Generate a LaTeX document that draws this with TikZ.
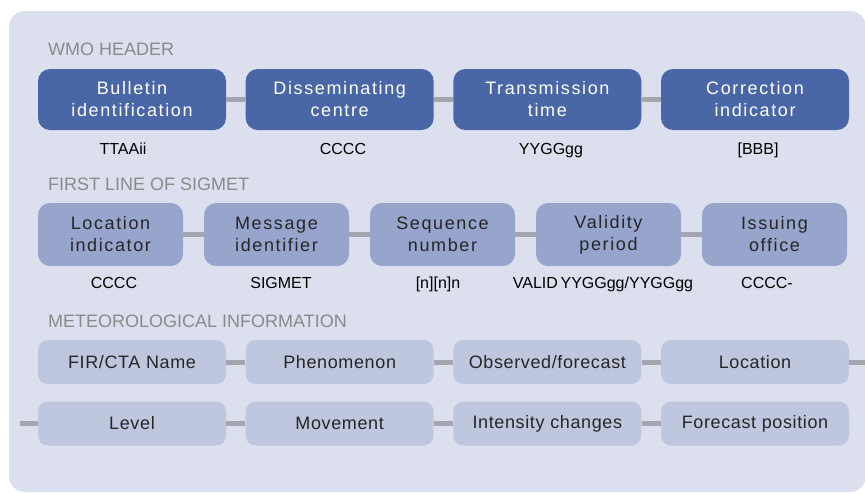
\documentclass[tikz,border=0pt]{standalone}
\usepackage{fontspec}
\setmainfont{Liberation Sans}
\definecolor{panelbg}{RGB}{220,223,238}
\definecolor{wmoblue}{RGB}{73,103,166}
\definecolor{sigblue}{RGB}{151,164,203}
\definecolor{metblue}{RGB}{191,199,223}
\definecolor{linkgray}{RGB}{163,166,174}
\definecolor{headgray}{RGB}{138,138,138}
\definecolor{boxtext}{RGB}{38,38,38}
\begin{document}
\begin{tikzpicture}[x=1pt, y=-1pt,
    box/.style={rounded corners=12pt, inner sep=0pt, align=center,
        font=\fontsize{18pt}{22pt}\selectfont\addfontfeature{LetterSpace=9}},
    wmobox/.style={box, fill=wmoblue, text=white, minimum width=188pt, minimum height=61pt},
    sigbox/.style={box, fill=sigblue, text=boxtext, minimum width=145pt, minimum height=63pt},
    metbox/.style={box, rounded corners=10pt, fill=metblue, text=boxtext, minimum width=188pt, minimum height=44pt,
        font=\fontsize{18pt}{22pt}\selectfont\addfontfeature{LetterSpace=3.5}},
    head/.style={anchor=west, inner sep=0pt, text=headgray, font=\fontsize{18pt}{20pt}\selectfont},
    code/.style={anchor=base, inner sep=0pt, font=\fontsize{16pt}{18pt}\selectfont},
    link/.style={draw=linkgray, line width=5pt}]
    \useasboundingbox (0,0) rectangle (865,493);
    \fill[panelbg, rounded corners=16pt] (9,11) rectangle (866,492);
    \node[head] (t1) at (48,49) {WMO HEADER};
    \node[head] (t2) at (48,184) {FIRST LINE OF SIGMET};
    \node[head] (t3) at (48,321) {METEOROLOGICAL INFORMATION};
    \foreach \t/\c/\cx [count=\i] in {{Bulletin\\identification}/TTAAii/123, {Disseminating\\centre}/CCCC/343,
        {Transmission\\time}/YYGGgg/551, {Correction\\indicator}/[BBB]/758}{
        \node[wmobox] (h\i) at ({132+207.67*(\i-1)},99.5) {\t};
        \node[code] (hc\i) at (\cx,154) {\c};}
    \foreach \t/\c/\cx [count=\i] in {{Location\\indicator}/CCCC/114, {Message\\identifier}/SIGMET/281,
        {Sequence\\number}/{[n][n]n}/438, {Validity\\period}/{VALID\,YYGGgg/YYGGgg}/603, {Issuing\\office}/CCCC-/767}{
        \node[sigbox] (s\i) at ({110.5+166*(\i-1)},234.5) {\t};
        \node[code] (sc\i) at (\cx,288) {\c};}
    \foreach \t [count=\i] in {FIR/CTA Name, Phenomenon, Observed/forecast, Location}
        \node[metbox] (m\i) at ({132+207.67*(\i-1)},362) {\t};
    \foreach \t [count=\i] in {Level, Movement, Intensity changes, Forecast position}
        \node[metbox] (n\i) at ({132+207.67*(\i-1)},423.5) {\t};
    \foreach \i/\j in {1/2,2/3,3/4}{
        \draw[link] (h\i) -- (h\j);
        \draw[link] (m\i) -- (m\j);
        \draw[link] (n\i) -- (n\j);}
    \foreach \i/\j in {1/2,2/3,3/4,4/5}
        \draw[link] (s\i) -- (s\j);
    \coordinate (mend) at (865,362);
    \coordinate (nstart) at (20,423.5);
    \draw[link] (m4) -- (mend);
    \draw[link] (nstart) -- (n1);
\end{tikzpicture}
\end{document}
